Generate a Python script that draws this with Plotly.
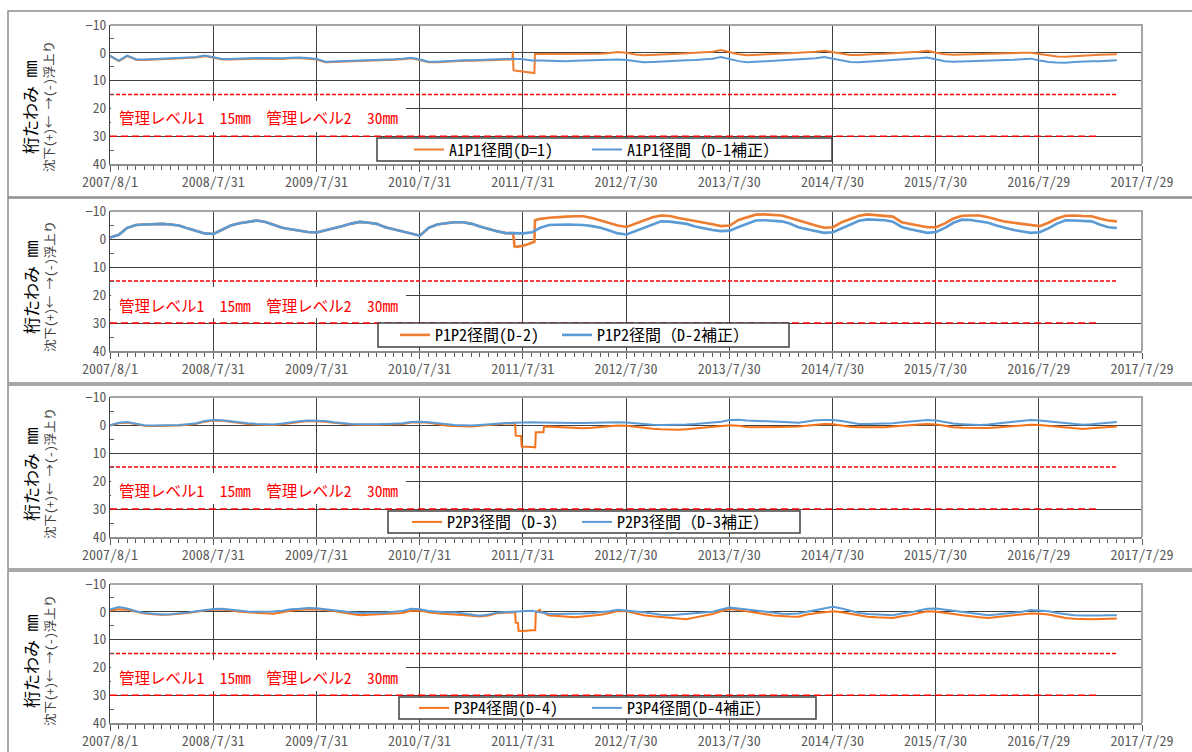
import pandas as pd
import plotly.graph_objects as go

W, H = 1192, 752

# ------------------------------------------------------------------ data
month_dates = pd.date_range("2007-08-01", "2017-05-01", freq="MS")  # monthly readings

x_start, x_end = "2007-08-01", "2017-07-29"
xtick_vals = ["2007-08-01", "2008-07-31", "2009-07-31", "2010-07-31", "2011-07-31",
              "2012-07-30", "2013-07-30", "2014-07-30", "2015-07-30", "2016-07-29", "2017-07-29"]
xtick_text = ["2007/8/1", "2008/7/31", "2009/7/31", "2010/7/31", "2011/7/31",
              "2012/7/30", "2013/7/30", "2014/7/30", "2015/7/30", "2016/7/29", "2017/7/29"]
ytick_vals = [-10, 0, 10, 20, 30, 40]
yminor_vals = [-5, 5, 15, 25, 35]

level1_dates = ["2007-08-01", "2017-05-01"]
level1_vals = [15, 15]
level2_dates = ["2007-08-01", "2017-03-01"]
level2_vals = [30, 30]

# ---- Panel 1 : A1P1
a1p1_raw = [
    1.2, 3.0, 1.2, 2.5, 2.6,
    2.5, 2.3, 2.1, 2.0, 1.9, 1.7, 1.2, 1.8, 2.4, 2.4, 2.2, 2.2,
    2.1, 2.2, 2.3, 2.2, 2.0, 1.9, 2.1, 2.4, 3.4, 3.3, 3.2, 3.1,
    3.0, 3.0, 2.8, 2.7, 2.5, 2.3, 2.0, 2.6, 3.4, 3.4, 3.2, 3.0,
    2.9, 2.9, 2.8, 2.8, 2.7, 2.5, 6.4, 6.9, 7.2, 0.4, 0.5, 0.5,
    0.5, 0.4, 0.4, 0.3, 0.3, 0.1, -0.3, 0.0, 0.6, 0.9, 0.7, 0.5,
    0.4, 0.3, 0.2, 0.0, -0.2, -0.4, -1.0, -0.2, 0.5, 0.9, 0.8, 0.5,
    0.4, 0.3, 0.2, 0.0, -0.1, -0.4, -0.7, -0.2, 0.5, 0.8, 0.8, 0.5,
    0.4, 0.3, 0.2, 0.0, -0.2, -0.4, -0.7, 0.0, 0.5, 0.7, 0.6, 0.4,
    0.4, 0.3, 0.3, 0.2, 0.1, 0.0, 0.0, 0.5, 1.0, 1.3, 1.4, 1.2,
    0.9, 0.8, 0.7, 0.6, 0.5]
a1p1_raw_ev_dates = ["2011-06-24", "2011-06-26", "2011-06-28", "2011-09-10", "2011-09-12"]
a1p1_raw_ev_vals = [2.4, -0.5, 6.2, 7.3, 0.4]
a1p1_corr = [
    1.0, 2.8, 1.0, 2.3, 2.4,
    2.3, 2.1, 1.9, 1.8, 1.7, 1.5, 1.0, 1.6, 2.2, 2.2, 2.0, 2.0,
    1.9, 2.0, 2.1, 2.0, 1.8, 1.7, 1.9, 2.2, 3.2, 3.1, 3.0, 2.9,
    2.8, 2.8, 2.6, 2.5, 2.3, 2.1, 1.8, 2.4, 3.2, 3.2, 3.0, 2.8,
    2.7, 2.7, 2.6, 2.6, 2.5, 2.3, 2.1, 2.3, 2.8, 2.8, 2.9, 3.0,
    3.0, 2.9, 2.8, 2.8, 2.7, 2.6, 2.4, 2.6, 3.0, 3.4, 3.3, 3.1,
    3.0, 2.9, 2.7, 2.6, 2.4, 2.1, 1.5, 2.2, 3.0, 3.4, 3.2, 3.1,
    3.0, 2.8, 2.6, 2.5, 2.3, 2.0, 1.5, 2.1, 2.9, 3.3, 3.4, 3.2,
    3.0, 2.9, 2.7, 2.6, 2.3, 2.0, 1.7, 2.4, 3.0, 3.2, 3.1, 3.0,
    3.0, 2.9, 2.9, 2.7, 2.5, 2.3, 2.1, 2.8, 3.3, 3.5, 3.6, 3.3,
    3.1, 3.0, 3.0, 2.8, 2.7]

# ---- Panel 2 : P1P2
p1p2_raw = [
    -0.5, -1.5, -4.0, -5.0, -5.2,
    -5.3, -5.4, -5.2, -4.8, -3.8, -2.8, -2.0, -1.8, -3.4, -4.8, -5.6, -6.2,
    -6.6, -6.1, -5.0, -4.0, -3.5, -3.0, -2.5, -2.3, -3.0, -3.8, -4.6, -5.5,
    -6.1, -5.8, -5.4, -4.2, -3.4, -2.6, -1.8, -1.2, -4.0, -5.2, -5.6, -6.0,
    -6.0, -5.4, -4.5, -3.5, -2.8, -2.1, 2.6, 2.4, 1.2, -7.2, -7.6, -7.9,
    -8.0, -8.1, -8.1, -7.5, -6.7, -5.8, -4.8, -4.3, -5.5, -6.7, -7.8, -8.4,
    -8.2, -7.5, -7.0, -6.5, -6.0, -5.3, -4.6, -4.8, -6.8, -7.8, -8.7, -8.8,
    -8.6, -8.4, -7.6, -6.6, -5.6, -4.8, -4.0, -4.2, -6.0, -7.2, -8.3, -8.8,
    -8.6, -8.3, -8.0, -6.0, -5.4, -5.0, -4.2, -4.2, -5.6, -7.3, -8.3, -8.4,
    -8.4, -7.8, -6.9, -6.2, -5.8, -5.4, -4.8, -4.6, -5.8, -7.3, -8.3, -8.4,
    -8.2, -8.1, -7.3, -6.6, -6.3]
p1p2_raw_ev_dates = ["2011-06-26", "2011-06-30", "2011-07-08", "2011-08-20", "2011-09-10", "2011-09-12"]
p1p2_raw_ev_vals = [-2.1, 0.5, 2.8, 1.8, 1.0, -6.7]
p1p2_corr = [
    -0.5, -1.5, -4.0, -5.0, -5.2,
    -5.3, -5.4, -5.2, -4.8, -3.8, -2.8, -2.0, -1.8, -3.4, -4.8, -5.6, -6.2,
    -6.6, -6.1, -5.0, -4.0, -3.5, -3.0, -2.5, -2.3, -3.0, -3.8, -4.6, -5.5,
    -6.1, -5.8, -5.4, -4.2, -3.4, -2.6, -1.8, -1.2, -4.0, -5.2, -5.6, -6.0,
    -6.0, -5.4, -4.5, -3.5, -2.8, -2.1, -2.0, -2.0, -2.4, -4.0, -5.0, -5.2,
    -5.2, -5.1, -5.0, -4.6, -4.0, -3.0, -2.0, -1.6, -2.8, -4.0, -5.2, -6.3,
    -6.2, -5.8, -5.4, -4.5, -3.8, -3.2, -2.8, -3.0, -4.3, -5.5, -6.6, -6.7,
    -6.5, -6.3, -5.5, -4.2, -3.5, -2.8, -2.2, -2.4, -3.8, -5.0, -6.5, -7.0,
    -6.9, -6.7, -6.2, -4.3, -3.5, -2.8, -2.2, -2.5, -4.0, -5.8, -6.9, -6.8,
    -6.4, -5.8, -4.8, -3.9, -3.2, -2.7, -2.2, -2.4, -3.8, -5.5, -6.7, -6.6,
    -6.4, -6.3, -5.2, -4.2, -3.9]

# ---- Panel 3 : P2P3
p2p3_raw = [
    0.2, -0.6, -0.9, -0.3, 0.3,
    0.4, 0.4, 0.3, 0.2, -0.1, -0.4, -1.2, -1.6, -1.5, -1.1, -0.7, -0.4,
    -0.2, -0.1, 0.0, -0.3, -0.8, -1.1, -1.4, -1.3, -1.2, -0.8, -0.4, -0.2,
    -0.1, 0.0, -0.1, -0.2, -0.2, -0.4, -0.9, -1.0, -0.8, -0.2, 0.2, 0.4,
    0.5, 0.5, 0.3, 0.0, -0.3, -0.5, -0.6, 7.7, 7.9, 2.6, 0.6, 0.8,
    1.0, 1.1, 1.2, 1.0, 0.8, 0.5, 0.2, 0.3, 0.7, 1.1, 1.3, 1.5,
    1.6, 1.7, 1.5, 1.2, 0.8, 0.5, 0.2, 0.1, 0.3, 0.7, 0.8, 0.8,
    0.8, 0.7, 0.6, 0.5, 0.2, -0.2, -0.4, -0.3, 0.2, 0.6, 0.8, 0.8,
    0.8, 0.8, 0.5, 0.2, 0.0, -0.2, -0.4, -0.2, 0.3, 0.8, 1.0, 1.1,
    1.2, 1.1, 0.9, 0.6, 0.4, 0.1, -0.1, 0.0, 0.3, 0.5, 1.0, 1.3,
    1.4, 1.2, 0.9, 0.6, 0.5]
p2p3_raw_ev_dates = ["2011-07-04", "2011-07-06", "2011-07-25", "2011-07-27",
                     "2011-09-13", "2011-09-15", "2011-10-12", "2011-10-14"]
p2p3_raw_ev_vals = [-0.6, 3.8, 3.9, 7.7, 8.0, 2.6, 2.6, 0.5]
p2p3_corr = [
    0.1, -0.8, -1.1, -0.5, 0.1,
    0.2, 0.2, 0.1, 0.0, -0.3, -0.6, -1.4, -1.8, -1.7, -1.3, -0.9, -0.6,
    -0.4, -0.3, -0.2, -0.5, -1.0, -1.3, -1.6, -1.5, -1.4, -1.0, -0.6, -0.4,
    -0.3, -0.2, -0.3, -0.4, -0.4, -0.6, -1.1, -1.2, -1.0, -0.6, -0.2, 0.0,
    0.1, 0.2, 0.0, -0.3, -0.5, -0.7, -0.8, -1.0, -1.0, -0.9, -0.8, -0.7,
    -0.7, -0.7, -0.7, -0.8, -0.9, -1.0, -1.0, -0.9, -0.6, -0.3, -0.1, 0.0,
    0.0, -0.1, -0.2, -0.4, -0.6, -0.9, -1.2, -1.8, -1.9, -1.6, -1.5, -1.5,
    -1.4, -1.2, -1.0, -0.8, -1.2, -1.7, -1.8, -1.8, -1.4, -0.8, -0.4, -0.4,
    -0.4, -0.4, -0.6, -1.0, -1.2, -1.5, -1.8, -1.6, -1.0, -0.5, -0.3, -0.1,
    0.0, -0.2, -0.5, -0.9, -1.1, -1.5, -1.8, -1.6, -1.3, -1.0, -0.5, -0.2,
    -0.1, -0.3, -0.6, -0.9, -1.1]

# ---- Panel 4 : P3P4
p3p4_raw = [
    -0.5, -0.9, -0.7, 0.0, 0.6,
    0.9, 1.1, 1.0, 0.8, 0.4, 0.0, -0.5, -0.7, -0.8, -0.5, 0.0, 0.2,
    0.4, 0.6, 0.7, 0.2, -0.4, -0.7, -0.9, -0.9, -0.6, -0.3, 0.3, 0.8,
    1.2, 1.1, 1.0, 0.9, 0.6, 0.4, -0.4, -0.5, 0.2, 0.5, 0.7, 0.8,
    1.0, 1.4, 1.7, 1.3, 0.5, 0.3, 0.2, 6.9, 6.6, -0.2, 1.3, 1.5,
    1.8, 2.0, 1.7, 1.4, 1.1, 0.4, -0.3, -0.2, 0.6, 1.2, 1.6, 1.9,
    2.0, 2.4, 2.7, 2.0, 1.4, 0.8, -0.2, -1.0, -0.6, -0.2, 0.2, 0.8,
    1.3, 1.6, 1.7, 1.8, 1.0, 0.5, 0.1, -0.2, 0.2, 0.8, 1.4, 1.8,
    2.0, 2.2, 2.2, 1.6, 1.2, 0.4, -0.2, 0.0, 0.3, 0.8, 1.2, 1.7,
    2.0, 2.2, 1.9, 1.5, 1.4, 1.0, 0.6, 0.7, 1.0, 1.6, 2.2, 2.5,
    2.7, 2.7, 2.6, 2.4, 2.4]
p3p4_raw_ev_dates = ["2011-07-04", "2011-07-06", "2011-07-14", "2011-07-16",
                     "2011-09-13", "2011-09-15", "2011-09-29"]
p3p4_raw_ev_vals = [0.2, 3.9, 4.0, 6.8, 6.6, 0.2, -0.7]
p3p4_corr = [
    -0.8, -1.7, -1.2, -0.2, 0.4,
    0.8, 1.0, 0.9, 0.7, 0.3, -0.2, -0.7, -1.0, -1.1, -0.8, -0.3, -0.1,
    0.0, 0.0, -0.1, -0.4, -0.9, -1.1, -1.4, -1.3, -1.0, -0.7, -0.2, 0.2,
    0.4, 0.3, 0.4, 0.3, 0.0, -0.3, -1.1, -0.9, -0.3, 0.0, 0.2, 0.2,
    0.6, 1.0, 1.4, 1.0, 0.3, 0.1, 0.0, -0.2, -0.4, 0.2, 0.7, 0.8,
    0.8, 0.8, 0.6, 0.4, 0.2, -0.2, -0.7, -0.5, -0.1, 0.2, 0.6, 1.1,
    1.2, 1.0, 0.8, 0.5, 0.2, 0.0, -0.8, -1.5, -1.2, -0.8, -0.4, 0.1,
    0.5, 0.7, 0.8, 0.6, 0.0, -0.6, -1.3, -1.8, -1.2, -0.4, 0.4, 0.8,
    1.0, 1.1, 1.2, 0.6, 0.2, -0.5, -1.1, -1.2, -0.8, -0.3, 0.2, 0.6,
    1.0, 1.2, 1.0, 0.7, 0.5, 0.0, -0.6, -0.5, -0.2, 0.4, 0.9, 1.2,
    1.3, 1.4, 1.3, 1.2, 1.2]

raw_names = ["A1P1径間(D=1)", "P1P2径間(D-2)", "P2P3径間（D-3）", "P3P4径間(D-4)"]
corr_names = ["A1P1径間（D-1補正）", "P1P2径間（D-2補正）", "P2P3径間（D-3補正）", "P3P4径間(D-4補正）"]
level_text = "管理レベル1　15mm　管理レベル2　30mm"
ytitle_main = "桁たわみ mm"
ytitle_sub = "沈下(+)← →(-)浮上り"

# ------------------------------------------------------------------ layout geometry (px)
FONT = "Noto Sans Mono CJK JP, Noto Sans CJK JP, sans-serif"
ORANGE_A = "#ED7D31"
ORANGE_B = "#F5731B"
BLUE = "#5B9BD5"
GRID = "#404040"
TICKC = "#595959"

PLOT_L, PLOT_R = 110, 1142
panels = [
    dict(raw=a1p1_raw, rd=a1p1_raw_ev_dates, rv=a1p1_raw_ev_vals, corr=a1p1_corr, oc=ORANGE_A, lw=2,
         top=25, bot=164, box=(11, 197), leg=(377, 138, 832, 161), t1=449, t2=627, txt_y=116.5, title_y=107),
    dict(raw=p1p2_raw, rd=p1p2_raw_ev_dates, rv=p1p2_raw_ev_vals, corr=p1p2_corr, oc=ORANGE_A, lw=2.6,
         top=211, bot=351, box=(198, 383), leg=(378, 323, 789, 347), t1=435, t2=597, txt_y=305, title_y=287),
    dict(raw=p2p3_raw, rd=p2p3_raw_ev_dates, rv=p2p3_raw_ev_vals, corr=p2p3_corr, oc=ORANGE_B, lw=2,
         top=397, bot=537, box=(385, 569), leg=(388, 511, 800, 533), t1=447, t2=617, txt_y=490, title_y=474),
    dict(raw=p3p4_raw, rd=p3p4_raw_ev_dates, rv=p3p4_raw_ev_vals, corr=p3p4_corr, oc=ORANGE_B, lw=2,
         top=584, bot=723, box=(571, 762), leg=(399, 697, 816, 719), t1=454, t2=627, txt_y=676.5, title_y=661),
]


def px(v):
    return v / W


def py(v):
    return 1 - v / H


def build(vals, ev_dates=(), ev_vals=()):
    n = min(len(vals), len(month_dates))
    s = pd.Series(list(vals)[:n], index=month_dates[:n])
    if len(ev_dates):
        e = pd.Series(list(ev_vals), index=pd.to_datetime(list(ev_dates)))
        s = pd.concat([s, e]).sort_index()
    return s


xminor = pd.date_range(x_start, x_end, freq="730h")

fig = go.Figure()
shapes = []
annotations = []
layout_upd = {}

for i, p in enumerate(panels):
    n = "" if i == 0 else str(i + 1)
    xa, ya, lg = "x" + n, "y" + n, "legend" + n

    fig.add_trace(go.Scatter(x=level1_dates, y=level1_vals, mode="lines", showlegend=False,
                             line=dict(color="#FF0000", width=1.5, dash="4px,2px"),
                             xaxis=xa, yaxis=ya, hoverinfo="skip"))
    fig.add_trace(go.Scatter(x=level2_dates, y=level2_vals, mode="lines", showlegend=False,
                             line=dict(color="#FF0000", width=1.5, dash="7px,4px"),
                             xaxis=xa, yaxis=ya, hoverinfo="skip"))
    raw = build(p["raw"], p["rd"], p["rv"])
    corr = build(p["corr"])
    fig.add_trace(go.Scatter(x=raw.index, y=raw.values, mode="lines", name=raw_names[i],
                             line=dict(color=p["oc"], width=p["lw"]), xaxis=xa, yaxis=ya, legend=lg,
                             legendwidth=p["t2"] - p["t1"] - 45))
    fig.add_trace(go.Scatter(x=corr.index, y=corr.values, mode="lines", name=corr_names[i],
                             line=dict(color=BLUE, width=p["lw"]), xaxis=xa, yaxis=ya, legend=lg,
                             legendwidth=190))

    layout_upd["xaxis" + n] = dict(
        domain=[px(PLOT_L), px(PLOT_R)], anchor=ya, type="date", range=[x_start, x_end],
        tickmode="array", tickvals=xtick_vals, ticktext=xtick_text, automargin=False,
        showgrid=True, gridcolor=GRID, gridwidth=1, zeroline=False,
        ticks="outside", ticklen=6, tickcolor=TICKC, tickwidth=1, ticklabelstandoff=-2,
        tickfont=dict(family=FONT, size=14, color=TICKC),
        showline=True, linecolor="#8c8c8c", linewidth=1.5,
        minor=dict(tickmode="array", tickvals=list(xminor), ticks="outside", ticklen=4,
                   tickcolor=TICKC, showgrid=False),
        fixedrange=True,
    )
    layout_upd["yaxis" + n] = dict(
        domain=[py(p["bot"]), py(p["top"])], anchor=xa, range=[40, -10], automargin=False,
        tickmode="array", tickvals=ytick_vals, showgrid=True, gridcolor=GRID, gridwidth=1,
        zeroline=False, ticks="", tickfont=dict(family=FONT, size=13.5, color=TICKC),
        showline=True, linecolor=GRID, linewidth=1,
        minor=dict(tickmode="array", tickvals=yminor_vals, ticks="inside", ticklen=4,
                   tickcolor=TICKC, showgrid=False),
        fixedrange=True,
    )
    L = p["leg"]
    layout_upd[lg] = dict(
        orientation="h", x=px(p["t1"] - 40), xanchor="left", y=py((L[1] + L[3]) / 2), yanchor="middle",
        bgcolor="rgba(0,0,0,0)", borderwidth=0, entrywidthmode="pixels",
        font=dict(family=FONT, size=16, color="black"), traceorder="normal",
    )

    # outer panel frame
    shapes.append(dict(type="rect", xref="paper", yref="paper", x0=px(8), x1=px(1205),
                       y0=py(p["box"][1]), y1=py(p["box"][0]),
                       line=dict(color="#8c8c8c", width=1.5), fillcolor="rgba(0,0,0,0)", layer="below"))
    # plot-area top/right border
    shapes.append(dict(type="path", xref="paper", yref="paper",
                       path=f"M {px(PLOT_L)},{py(p['top'])} L {px(PLOT_R)},{py(p['top'])} L {px(PLOT_R)},{py(p['bot'])}",
                       line=dict(color="#a6a6a6", width=2), layer="above"))
    # white text box behind level text
    shapes.append(dict(type="rect", xref="paper", yref="paper", x0=px(111), x1=px(406),
                       y0=py(p["top"] + 107), y1=py(p["top"] + 76),
                       line=dict(width=0), fillcolor="white", layer="above"))
    # legend box
    shapes.append(dict(type="rect", xref="paper", yref="paper", x0=px(L[0]), x1=px(L[2]),
                       y0=py(L[3]), y1=py(L[1]),
                       line=dict(color="#404040", width=1.5), fillcolor="white", layer="above"))

    annotations.append(dict(xref="paper", yref="paper", x=px(117), y=py(p["txt_y"]),
                            xanchor="left", yanchor="middle", text=level_text, showarrow=False,
                            font=dict(family=FONT, size=15.5, color="#FF0000")))
    annotations.append(dict(xref="paper", yref="paper", x=px(30), y=py(p["title_y"]),
                            xanchor="center", yanchor="middle", text=ytitle_main, textangle=-90,
                            showarrow=False, font=dict(family=FONT, size=17, color="black")))
    annotations.append(dict(xref="paper", yref="paper", x=px(49), y=py(p["title_y"]),
                            xanchor="center", yanchor="middle", text=ytitle_sub, textangle=-90,
                            showarrow=False, font=dict(family=FONT, size=12.5, color="#404040")))

fig.update_layout(
    width=W, height=H, margin=dict(l=0, r=0, t=0, b=0, autoexpand=False),
    paper_bgcolor="white", plot_bgcolor="white",
    shapes=shapes, annotations=annotations, showlegend=True,
    font=dict(family=FONT),
    **layout_upd,
)

fig.write_html("out.html", config={"displayModeBar": False},
               post_script="document.body.style.margin='0px';document.body.style.overflow='hidden';")
